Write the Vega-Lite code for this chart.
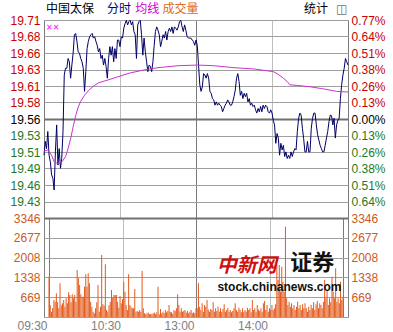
{
"$schema": "https://vega.github.io/schema/vega-lite/v6.json",
"background": "#ffffff",
"padding": {"left": 9, "top": 2, "right": 0, "bottom": 0},
"bounds": "flush",
"spacing": 0,
"config": {
  "view": {"stroke": "#808080", "strokeWidth": 1},
  "axis": {"labelFont": "Liberation Sans", "labelFontSize": 12, "ticks": false, "domain": false, "title": null, "labelFlush": false, "labelOverlap": false},
  "text": {"font": "Noto Sans CJK SC"}
},
"datasets": {
  "price": [
    {"m":0,"p":19.505},{"m":1,"p":19.526},{"m":2,"p":19.515},{"m":3,"p":19.541},{"m":4,"p":19.505},{"m":5,"p":19.495},{"m":6,"p":19.475},{"m":7,"p":19.47},{"m":8,"p":19.452},{"m":9,"p":19.51},
    {"m":10,"p":19.551},{"m":11,"p":19.49},{"m":12,"p":19.515},{"m":13,"p":19.485},{"m":14,"p":19.5},{"m":15,"p":19.541},{"m":16,"p":19.627},{"m":17,"p":19.637},{"m":18,"p":19.637},{"m":19,"p":19.652},
    {"m":20,"p":19.647},{"m":21,"p":19.622},{"m":22,"p":19.642},{"m":23,"p":19.66},{"m":24,"p":19.688},{"m":25,"p":19.69},{"m":26,"p":19.678},{"m":27,"p":19.662},{"m":28,"p":19.66},{"m":29,"p":19.652},
    {"m":30,"p":19.647},{"m":31,"p":19.637},{"m":32,"p":19.602},{"m":33,"p":19.632},{"m":34,"p":19.667},{"m":35,"p":19.678},{"m":36,"p":19.685},{"m":37,"p":19.688},{"m":38,"p":19.69},{"m":39,"p":19.683},
    {"m":40,"p":19.685},{"m":41,"p":19.678},{"m":42,"p":19.672},{"m":43,"p":19.662},{"m":44,"p":19.667},{"m":45,"p":19.652},{"m":46,"p":19.657},{"m":47,"p":19.642},{"m":48,"p":19.652},{"m":49,"p":19.64},
    {"m":50,"p":19.622},{"m":51,"p":19.652},{"m":52,"p":19.67},{"m":53,"p":19.657},{"m":54,"p":19.67},{"m":55,"p":19.647},{"m":56,"p":19.667},{"m":57,"p":19.652},{"m":58,"p":19.68},{"m":59,"p":19.68},
    {"m":60,"p":19.67},{"m":61,"p":19.685},{"m":62,"p":19.683},{"m":63,"p":19.698},{"m":64,"p":19.705},{"m":65,"p":19.71},{"m":66,"p":19.703},{"m":67,"p":19.708},{"m":68,"p":19.71},{"m":69,"p":19.703},
    {"m":70,"p":19.708},{"m":71,"p":19.693},{"m":72,"p":19.688},{"m":73,"p":19.652},{"m":74,"p":19.703},{"m":75,"p":19.708},{"m":76,"p":19.71},{"m":77,"p":19.688},{"m":78,"p":19.657},{"m":79,"p":19.683},
    {"m":80,"p":19.662},{"m":81,"p":19.647},{"m":82,"p":19.632},{"m":83,"p":19.642},{"m":84,"p":19.64},{"m":85,"p":19.632},{"m":86,"p":19.647},{"m":87,"p":19.672},{"m":88,"p":19.693},{"m":89,"p":19.7},
    {"m":90,"p":19.695},{"m":91,"p":19.688},{"m":92,"p":19.67},{"m":93,"p":19.678},{"m":94,"p":19.688},{"m":95,"p":19.683},{"m":96,"p":19.693},{"m":97,"p":19.68},{"m":98,"p":19.693},{"m":99,"p":19.698},
    {"m":100,"p":19.693},{"m":101,"p":19.7},{"m":102,"p":19.69},{"m":103,"p":19.7},{"m":104,"p":19.698},{"m":105,"p":19.695},{"m":106,"p":19.7},{"m":107,"p":19.708},{"m":108,"p":19.71},{"m":109,"p":19.7},
    {"m":110,"p":19.693},{"m":111,"p":19.703},{"m":112,"p":19.695},{"m":113,"p":19.685},{"m":114,"p":19.683},{"m":115,"p":19.683},{"m":116,"p":19.683},{"m":117,"p":19.68},{"m":118,"p":19.678},{"m":119,"p":19.672},
    {"m":120,"p":19.68},{"m":121,"p":19.672},{"m":122,"p":19.642},{"m":123,"p":19.612},{"m":124,"p":19.602},{"m":125,"p":19.609},{"m":126,"p":19.629},{"m":127,"p":19.627},{"m":128,"p":19.622},{"m":129,"p":19.629},
    {"m":130,"p":19.622},{"m":131,"p":19.602},{"m":132,"p":19.599},{"m":133,"p":19.591},{"m":134,"p":19.589},{"m":135,"p":19.581},{"m":136,"p":19.586},{"m":137,"p":19.581},{"m":138,"p":19.584},{"m":139,"p":19.581},
    {"m":140,"p":19.579},{"m":141,"p":19.571},{"m":142,"p":19.576},{"m":143,"p":19.581},{"m":144,"p":19.584},{"m":145,"p":19.589},{"m":146,"p":19.586},{"m":147,"p":19.581},{"m":148,"p":19.581},{"m":149,"p":19.586},
    {"m":150,"p":19.594},{"m":151,"p":19.604},{"m":152,"p":19.622},{"m":153,"p":19.629},{"m":154,"p":19.617},{"m":155,"p":19.596},{"m":156,"p":19.602},{"m":157,"p":19.591},{"m":158,"p":19.599},{"m":159,"p":19.594},
    {"m":160,"p":19.599},{"m":161,"p":19.586},{"m":162,"p":19.591},{"m":163,"p":19.581},{"m":164,"p":19.584},{"m":165,"p":19.579},{"m":166,"p":19.581},{"m":167,"p":19.574},{"m":168,"p":19.569},{"m":169,"p":19.576},
    {"m":170,"p":19.571},{"m":171,"p":19.579},{"m":172,"p":19.571},{"m":173,"p":19.581},{"m":174,"p":19.576},{"m":175,"p":19.581},{"m":176,"p":19.579},{"m":177,"p":19.571},{"m":178,"p":19.569},{"m":179,"p":19.574},
    {"m":180,"p":19.569},{"m":181,"p":19.558},{"m":182,"p":19.551},{"m":183,"p":19.523},{"m":184,"p":19.538},{"m":185,"p":19.531},{"m":186,"p":19.505},{"m":187,"p":19.523},{"m":188,"p":19.513},{"m":189,"p":19.52},
    {"m":190,"p":19.503},{"m":191,"p":19.51},{"m":192,"p":19.5},{"m":193,"p":19.505},{"m":194,"p":19.5},{"m":195,"p":19.51},{"m":196,"p":19.503},{"m":197,"p":19.51},{"m":198,"p":19.515},{"m":199,"p":19.513},
    {"m":200,"p":19.541},{"m":201,"p":19.561},{"m":202,"p":19.569},{"m":203,"p":19.566},{"m":204,"p":19.546},{"m":205,"p":19.53},{"m":206,"p":19.51},{"m":207,"p":19.51},{"m":208,"p":19.526},{"m":209,"p":19.51},
    {"m":210,"p":19.51},{"m":211,"p":19.546},{"m":212,"p":19.561},{"m":213,"p":19.569},{"m":214,"p":19.569},{"m":215,"p":19.551},{"m":216,"p":19.536},{"m":217,"p":19.528},{"m":218,"p":19.52},{"m":219,"p":19.515},
    {"m":220,"p":19.51},{"m":221,"p":19.51},{"m":222,"p":19.52},{"m":223,"p":19.531},{"m":224,"p":19.541},{"m":225,"p":19.556},{"m":226,"p":19.566},{"m":227,"p":19.565},{"m":228,"p":19.551},{"m":229,"p":19.561},
    {"m":230,"p":19.531},{"m":231,"p":19.551},{"m":232,"p":19.558},{"m":233,"p":19.561},{"m":234,"p":19.591},{"m":235,"p":19.612},{"m":236,"p":19.627},{"m":237,"p":19.637},{"m":238,"p":19.652},{"m":239,"p":19.647},
    {"m":240,"p":19.642}
  ],
  "avg": [
    {"m":0,"a":19.511},{"m":3,"a":19.513},{"m":6,"a":19.505},{"m":8,"a":19.495},{"m":10,"a":19.493},{"m":13,"a":19.493},{"m":15,"a":19.497},{"m":17,"a":19.503},{"m":19,"a":19.515},{"m":21,"a":19.53},
    {"m":23,"a":19.548},{"m":25,"a":19.565},{"m":27,"a":19.578},{"m":29,"a":19.587},{"m":32,"a":19.596},{"m":35,"a":19.603},{"m":39,"a":19.61},{"m":43,"a":19.615},{"m":50,"a":19.619},{"m":58,"a":19.624},
    {"m":68,"a":19.63},{"m":80,"a":19.635},{"m":90,"a":19.638},{"m":106,"a":19.641},{"m":121,"a":19.642},{"m":134,"a":19.641},{"m":150,"a":19.638},{"m":166,"a":19.636},{"m":181,"a":19.632},{"m":184,"a":19.629},
    {"m":189,"a":19.622},{"m":192,"a":19.617},{"m":194,"a":19.612},{"m":200,"a":19.611},{"m":210,"a":19.609},{"m":220,"a":19.606},{"m":231,"a":19.602},{"m":240,"a":19.601}
  ],
  "vol": [
    {"m":0,"v":1364},{"m":1,"v":400},{"m":2,"v":180},{"m":3,"v":300},{"m":4,"v":575},{"m":5,"v":518},{"m":6,"v":800},{"m":7,"v":500},{"m":8,"v":293},{"m":9,"v":1138},
    {"m":10,"v":400},{"m":11,"v":462},{"m":12,"v":575},{"m":13,"v":350},{"m":14,"v":631},{"m":15,"v":462},{"m":16,"v":834},{"m":17,"v":744},{"m":18,"v":500},{"m":19,"v":766},
    {"m":20,"v":631},{"m":21,"v":744},{"m":22,"v":518},{"m":23,"v":1589},{"m":24,"v":1307},{"m":25,"v":1082},{"m":26,"v":766},{"m":27,"v":687},{"m":28,"v":687},{"m":29,"v":1025},
    {"m":30,"v":1442},{"m":31,"v":1025},{"m":32,"v":1476},{"m":33,"v":1138},{"m":34,"v":518},{"m":35,"v":349},{"m":36,"v":180},{"m":37,"v":124},{"m":38,"v":293},{"m":39,"v":500},
    {"m":40,"v":1082},{"m":41,"v":180},{"m":42,"v":349},{"m":43,"v":2096},{"m":44,"v":428},{"m":45,"v":383},{"m":46,"v":1780},{"m":47,"v":237},{"m":48,"v":180},{"m":49,"v":400},
    {"m":50,"v":518},{"m":51,"v":913},{"m":52,"v":654},{"m":53,"v":744},{"m":54,"v":744},{"m":55,"v":744},{"m":56,"v":518},{"m":57,"v":316},{"m":58,"v":710},{"m":59,"v":462},
    {"m":60,"v":600},{"m":61,"v":1195},{"m":62,"v":857},{"m":63,"v":406},{"m":64,"v":237},{"m":65,"v":1442},{"m":66,"v":406},{"m":67,"v":349},{"m":68,"v":293},{"m":69,"v":293},
    {"m":70,"v":947},{"m":71,"v":180},{"m":72,"v":203},{"m":73,"v":180},{"m":74,"v":237},{"m":75,"v":180},{"m":76,"v":1555},{"m":77,"v":293},{"m":78,"v":124},{"m":79,"v":90},
    {"m":80,"v":124},{"m":81,"v":150},{"m":82,"v":90},{"m":83,"v":113},{"m":84,"v":90},{"m":85,"v":124},{"m":86,"v":150},{"m":87,"v":90},{"m":88,"v":158},{"m":89,"v":1025},
    {"m":90,"v":90},{"m":91,"v":270},{"m":92,"v":124},{"m":93,"v":180},{"m":94,"v":124},{"m":95,"v":237},{"m":96,"v":158},{"m":97,"v":200},{"m":98,"v":406},{"m":99,"v":180},
    {"m":100,"v":158},{"m":101,"v":113},{"m":102,"v":237},{"m":103,"v":203},{"m":104,"v":293},{"m":105,"v":766},{"m":106,"v":406},{"m":107,"v":180},{"m":108,"v":293},{"m":109,"v":180},
    {"m":110,"v":200},{"m":111,"v":237},{"m":112,"v":146},{"m":113,"v":203},{"m":114,"v":124},{"m":115,"v":180},{"m":116,"v":237},{"m":117,"v":124},{"m":118,"v":158},{"m":119,"v":124},
    {"m":120,"v":293},{"m":121,"v":293},{"m":122,"v":1138},{"m":123,"v":349},{"m":124,"v":237},{"m":125,"v":462},{"m":126,"v":180},{"m":127,"v":406},{"m":128,"v":349},{"m":129,"v":575},
    {"m":130,"v":250},{"m":131,"v":180},{"m":132,"v":270},{"m":133,"v":237},{"m":134,"v":496},{"m":135,"v":180},{"m":136,"v":293},{"m":137,"v":203},{"m":138,"v":349},{"m":139,"v":180},
    {"m":140,"v":293},{"m":141,"v":180},{"m":142,"v":270},{"m":143,"v":428},{"m":144,"v":180},{"m":145,"v":237},{"m":146,"v":316},{"m":147,"v":180},{"m":148,"v":237},{"m":149,"v":158},
    {"m":150,"v":200},{"m":151,"v":293},{"m":152,"v":462},{"m":153,"v":237},{"m":154,"v":180},{"m":155,"v":316},{"m":156,"v":237},{"m":157,"v":158},{"m":158,"v":293},{"m":159,"v":180},
    {"m":160,"v":237},{"m":161,"v":180},{"m":162,"v":316},{"m":163,"v":237},{"m":164,"v":293},{"m":165,"v":158},{"m":166,"v":575},{"m":167,"v":237},{"m":168,"v":293},{"m":169,"v":180},
    {"m":170,"v":406},{"m":171,"v":250},{"m":172,"v":203},{"m":173,"v":293},{"m":174,"v":180},{"m":175,"v":462},{"m":176,"v":541},{"m":177,"v":237},{"m":178,"v":406},{"m":179,"v":180},
    {"m":180,"v":293},{"m":181,"v":237},{"m":182,"v":406},{"m":183,"v":237},{"m":184,"v":293},{"m":185,"v":428},{"m":186,"v":1758},{"m":187,"v":1251},{"m":188,"v":1758},{"m":189,"v":857},
    {"m":190,"v":1702},{"m":191,"v":1195},{"m":192,"v":857},{"m":193,"v":3054},{"m":194,"v":631},{"m":195,"v":406},{"m":196,"v":518},{"m":197,"v":349},{"m":198,"v":462},{"m":199,"v":293},
    {"m":200,"v":406},{"m":201,"v":237},{"m":202,"v":349},{"m":203,"v":518},{"m":204,"v":293},{"m":205,"v":406},{"m":206,"v":237},{"m":207,"v":428},{"m":208,"v":293},{"m":209,"v":462},
    {"m":210,"v":300},{"m":211,"v":180},{"m":212,"v":349},{"m":213,"v":237},{"m":214,"v":406},{"m":215,"v":293},{"m":216,"v":496},{"m":217,"v":237},{"m":218,"v":428},{"m":219,"v":541},
    {"m":220,"v":293},{"m":221,"v":462},{"m":222,"v":406},{"m":223,"v":293},{"m":224,"v":518},{"m":225,"v":1251},{"m":226,"v":631},{"m":227,"v":913},{"m":228,"v":406},{"m":229,"v":631},
    {"m":230,"v":500},{"m":231,"v":1364},{"m":232,"v":857},{"m":233,"v":631},{"m":234,"v":1645},{"m":235,"v":518},{"m":236,"v":631},{"m":237,"v":462},{"m":238,"v":1195},{"m":239,"v":575},
    {"m":240,"v":687}
  ]
},
"vconcat": [
  {
    "width": 304,
    "height": 198,
    "resolve": {"axis": {"y": "independent"}},
    "layer": [
      {
        "data": {"name": "price"},
        "mark": {"type": "line", "color": "#000066", "strokeWidth": 1},
        "encoding": {
          "x": {"field": "m", "type": "quantitative", "scale": {"domain": [0, 240], "nice": false, "zero": false},
            "axis": {"values": [0,30,60,90,120,150,180,210,240], "labels": false, "grid": true, "gridColor": "#7a7a7a",
              "gridDash": {"condition": {"test": "datum.value % 120 === 0", "value": []}, "value": [1, 1]}}},
          "y": {"field": "p", "type": "quantitative", "scale": {"domain": [19.40952, 19.71048], "nice": false, "zero": false},
            "axis": {"orient": "left", "labelPadding": 4,
              "values": [19.40952,19.4346,19.45968,19.48476,19.50984,19.53492,19.56,19.58508,19.61016,19.63524,19.66032,19.6854,19.71048],
              "labelExpr": "['','19.43','19.46','19.49','19.51','19.53','19.56','19.58','19.61','19.63','19.66','19.68','19.71'][round((datum.value-19.56)/0.02508)+6]",
              "labelColor": {"condition": [{"test": "datum.value > 19.565", "value": "#c80000"}, {"test": "datum.value < 19.555", "value": "#1e7a1e"}], "value": "#000000"},
              "grid": true,
              "gridColor": {"condition": {"test": "abs(datum.value - 19.56) < 0.001", "value": "#707070"}, "value": "#a0a0a0"},
              "gridWidth": {"condition": {"test": "abs(datum.value - 19.56) < 0.001", "value": 2}, "value": 1}}}
        }
      },
      {
        "data": {"name": "avg"},
        "mark": {"type": "line", "color": "#cc33cc", "strokeWidth": 1},
        "encoding": {
          "x": {"field": "m", "type": "quantitative"},
          "y": {"field": "a", "type": "quantitative",
            "axis": {"orient": "right", "labelPadding": 3, "grid": false,
              "values": [19.40952,19.4346,19.45968,19.48476,19.50984,19.53492,19.56,19.58508,19.61016,19.63524,19.66032,19.6854,19.71048],
              "labelExpr": "['','0.64%','0.51%','0.38%','0.26%','0.13%','0.00%','0.13%','0.26%','0.38%','0.51%','0.64%','0.77%'][round((datum.value-19.56)/0.02508)+6]",
              "labelColor": {"condition": [{"test": "datum.value > 19.565", "value": "#c80000"}, {"test": "datum.value < 19.555", "value": "#1e7a1e"}], "value": "#000000"}}}
        }
      },
      {
        "data": {"values": [{}]},
        "mark": {"type": "text", "text": "中国太保", "align": "left", "baseline": "middle", "fontSize": 12, "color": "#000000"},
        "encoding": {"x": {"datum": 1.6, "type": "quantitative"}, "y": {"datum": 19.7272, "type": "quantitative", "axis": null}}
      },
      {
        "data": {"values": [{}]},
        "mark": {"type": "text", "text": "分时", "align": "left", "baseline": "middle", "fontSize": 12, "color": "#000080"},
        "encoding": {"x": {"datum": 49.7, "type": "quantitative"}, "y": {"datum": 19.7272, "type": "quantitative", "axis": null}}
      },
      {
        "data": {"values": [{}]},
        "mark": {"type": "text", "text": "均线", "align": "left", "baseline": "middle", "fontSize": 12, "color": "#cc00cc"},
        "encoding": {"x": {"datum": 72, "type": "quantitative"}, "y": {"datum": 19.7272, "type": "quantitative", "axis": null}}
      },
      {
        "data": {"values": [{}]},
        "mark": {"type": "text", "text": "成交量", "align": "left", "baseline": "middle", "fontSize": 12, "color": "#dd6a22"},
        "encoding": {"x": {"datum": 93.5, "type": "quantitative"}, "y": {"datum": 19.7272, "type": "quantitative", "axis": null}}
      },
      {
        "data": {"values": [{}]},
        "mark": {"type": "text", "text": "统计", "align": "left", "baseline": "middle", "fontSize": 12, "color": "#000000"},
        "encoding": {"x": {"datum": 205.3, "type": "quantitative"}, "y": {"datum": 19.7272, "type": "quantitative", "axis": null}}
      },
      {
        "data": {"values": [{}]},
        "mark": {"type": "text", "text": "◫", "align": "left", "baseline": "middle", "fontSize": 12, "font": "DejaVu Sans", "color": "#707070"},
        "encoding": {"x": {"datum": 230.5, "type": "quantitative"}, "y": {"datum": 19.7272, "type": "quantitative", "axis": null}}
      },
      {
        "data": {"values": [{}]},
        "mark": {"type": "text", "text": "××", "align": "left", "baseline": "middle", "fontSize": 8, "fontWeight": "bold", "font": "DejaVu Sans", "color": "#ff33ff"},
        "encoding": {"x": {"datum": 1.6, "type": "quantitative"}, "y": {"datum": 19.6983, "type": "quantitative", "axis": null}}
      }
    ]
  },
  {
    "width": 304,
    "height": 99,
    "resolve": {"axis": {"y": "independent"}},
    "layer": [
      {
        "data": {"name": "vol"},
        "mark": {"type": "bar", "color": "#e35a1c", "size": 1, "orient": "vertical"},
        "encoding": {
          "x": {"field": "m", "type": "quantitative", "scale": {"domain": [0, 240], "nice": false, "zero": false},
            "axis": {"values": [0,30,60,90,120,150,180,210,240], "grid": true, "gridColor": "#7a7a7a",
              "gridDash": {"condition": {"test": "datum.value % 120 === 0", "value": []}, "value": [1, 1]},
              "labelExpr": "datum.value===0?'09:30':datum.value===60?'10:30':datum.value===120?'13:00':datum.value===180?'14:00':''",
              "labelAlign": "right", "labelOffset": -2, "labelPadding": 3, "labelBaseline": "top", "labelColor": "#808080"}},
          "y": {"field": "v", "type": "quantitative", "scale": {"domain": [0, 3346], "nice": false, "zero": true},
            "axis": {"orient": "left", "labelPadding": 4, "values": [0, 669.2, 1338.4, 2007.6, 2676.8, 3346],
              "labelExpr": "datum.value < 1 ? '' : format(round(datum.value), 'd')",
              "labelColor": "#cc5a1e", "grid": true,
              "gridColor": {"condition": {"test": "datum.value > 3300", "value": "#707070"}, "value": "#a0a0a0"},
              "gridWidth": {"condition": {"test": "datum.value > 3300", "value": 2}, "value": 1}}}
        }
      },
      {
        "data": {"name": "vol"},
        "mark": {"type": "bar", "size": 1, "opacity": 0, "orient": "vertical"},
        "encoding": {
          "x": {"field": "m", "type": "quantitative"},
          "y": {"field": "v", "type": "quantitative",
            "axis": {"orient": "right", "labelPadding": 3, "grid": false, "values": [0, 669.2, 1338.4, 2007.6, 2676.8, 3346],
              "labelExpr": "datum.value < 1 ? '' : format(round(datum.value), 'd')", "labelColor": "#cc5a1e"}}
        }
      },
      {
        "data": {"values": [{}]},
        "mark": {"type": "text", "text": "中新网", "align": "left", "baseline": "middle", "fontSize": 20, "fontWeight": "bold", "fontStyle": "italic", "color": "#d01010"},
        "encoding": {"x": {"datum": 137, "type": "quantitative"}, "y": {"datum": 1724, "type": "quantitative", "axis": null}}
      },
      {
        "data": {"values": [{}]},
        "mark": {"type": "text", "text": "证券", "align": "left", "baseline": "middle", "fontSize": 22, "fontWeight": "bold", "color": "#111111"},
        "encoding": {"x": {"datum": 197, "type": "quantitative"}, "y": {"datum": 1825, "type": "quantitative", "axis": null}}
      },
      {
        "data": {"values": [{}]},
        "mark": {"type": "text", "text": "stock.chinanews.com", "align": "left", "baseline": "middle", "fontSize": 12, "fontWeight": "bold", "font": "Liberation Sans", "color": "#111111"},
        "encoding": {"x": {"datum": 137.5, "type": "quantitative"}, "y": {"datum": 1014, "type": "quantitative", "axis": null}}
      }
    ]
  }
]
}
